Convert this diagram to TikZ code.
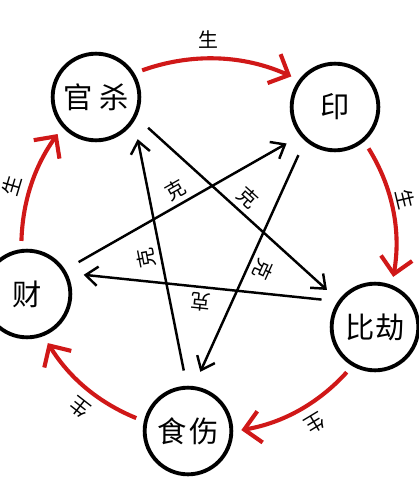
\documentclass[tikz,border=0pt]{standalone}
\usepackage{fontspec}
\newfontfamily\cjk{Noto Sans CJK SC}
\usepackage{tikz}
\usetikzlibrary{arrows.meta}
\definecolor{shengred}{RGB}{208,24,24}
\newcommand{\ringw}{3.3pt}
\newcommand{\kew}{2.1pt}

\begin{document}
\begin{tikzpicture}[x=0.03cm,y=-0.03cm]
                %\draw[help lines] (0,0) grid (418,479);
                \tikzset{
                  Star/.style = {circle, draw=black, line width=\ringw, minimum size=2.6cm,
                                 inner sep=0pt, outer sep=0.3cm, font=\cjk\fontsize{25}{28}\selectfont},
                  ShengEdge/.style = {draw=shengred, line width=3.5pt, looseness=0.9,
                                 -{Straight Barb[length=4.8mm,width=9.5mm]}},
                  KeEdge/.style = {draw=black, line width=\kew, shorten <=0.22cm, shorten >=0.22cm,
                                 -{Straight Barb[length=3.6mm,width=5.8mm]}},
                  EdgeLabel/.style = {sloped, allow upside down, above, inner sep=2pt,
                                 font=\cjk\fontsize{17}{19}\selectfont}
                }
                \useasboundingbox (0,0) rectangle (418,479);
                \node[Star] (guansha)  at (96,97)   {官\hspace{0.25em}杀};
                \node[Star] (yin)      at (335,107) {印};
                \node[Star] (bijie)    at (375,327) {比劫};
                \node[Star] (shishang) at (188,431) {食\hspace{0.1em}伤};
                \node[Star] (cai)      at (27,294)  {财};
                % sheng
                \foreach \a/\sa/\b/\eb/\bend/\off in {guansha/30/yin/145/22/5pt, yin/-51/bijie/70/21/1pt,
                                  bijie/-122/shishang/1/19/5pt, shishang/166/cai/-67/18/5pt, cai/96/guansha/-136/17/4pt}
                  \draw[ShengEdge, bend left=\bend] (\a.\sa) to
                    node[EdgeLabel, pos=0.44, above=\off] {生} (\b.\eb);
                % ke
                \foreach \a/\sa/\b/\eb in {cai/32/yin/-142, guansha/-29/bijie/143, shishang/93/guansha/-41,
                                  yin/-129/shishang/80, bijie/150/cai/22}
                  \draw[KeEdge] (\a.\sa) -- node[EdgeLabel, midway, above=2pt] {克} (\b.\eb);
        \end{tikzpicture}
\end{document}
